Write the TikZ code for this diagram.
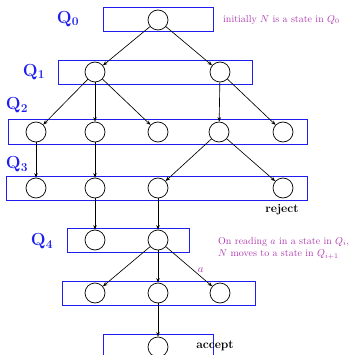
\documentclass[tikz,border=0pt]{standalone}
\usetikzlibrary{arrows.meta}
\definecolor{annot}{RGB}{175,55,175}
\definecolor{qblue}{RGB}{30,30,240}
\begin{document}
\begin{tikzpicture}[x=1pt,y=-1pt,
  st/.style={circle,draw=black,line width=0.7pt,minimum size=20pt,inner sep=0pt},
  level/.style={draw=qblue,line width=0.8pt},
  qlab/.style={text=qblue,font=\fontsize{17.5}{21}\selectfont\bfseries},
  note/.style={text=annot,font=\fontsize{10}{12.5}\selectfont,align=left,anchor=west,inner sep=0pt},
  edge/.style={-{Stealth[length=4.5pt,width=3.5pt]},line width=0.65pt},
  endlab/.style={font=\large\bfseries,inner sep=0pt}]
\useasboundingbox (0,0) rectangle (352,355);
% level boxes
\draw[level] (103,7) rectangle (213,31);
\draw[level] (58,60) rectangle (252,84);
\draw[level] (8,119) rectangle (307,144);
\draw[level] (6,176) rectangle (307,200);
\draw[level] (67,228) rectangle (189,252);
\draw[level] (62,281) rectangle (255,305);
\draw[level] (103,334) rectangle (213,358);
% labels
\node[qlab] (l0) at (68,19) {Q$_{\mathbf 0}$};
\node[qlab] (l1) at (34,72) {Q$_{\mathbf 1}$};
\node[qlab] (l2) at (17,105) {Q$_{\mathbf 2}$};
\node[qlab] (l3) at (17,164) {Q$_{\mathbf 3}$};
\node[qlab] (l4) at (42,241) {Q$_{\mathbf 4}$};
% states
\node[st] (a) at (158,20) {};
\node[st] (b1) at (95,72) {};
\node[st] (b2) at (220,72) {};
\node[st] (c1) at (36,132) {};
\node[st] (c2) at (95,132) {};
\node[st] (c3) at (158,132) {};
\node[st] (c4) at (219,132) {};
\node[st] (c5) at (283,132) {};
\node[st] (d1) at (36,188) {};
\node[st] (d2) at (95,188) {};
\node[st] (d3) at (158,188) {};
\node[st] (d4) at (283,188) {};
\node[st] (e1) at (95,240) {};
\node[st] (e2) at (158,240) {};
\node[st] (f1) at (95,293) {};
\node[st] (f2) at (158,293) {};
\node[st] (f3) at (220,293) {};
\node[st] (g) at (158,347) {};
% edges
\draw[edge] (a) -- (b1);
\draw[edge] (a) -- (b2);
\draw[edge] (b1) -- (c1);
\draw[edge] (b1) -- (c2);
\draw[edge] (b1) -- (c3);
\draw[edge] (b2) -- (c4);
\draw[edge] (b2) -- (c5);
\draw[edge] (c1) -- (d1);
\draw[edge] (c2) -- (d2);
\draw[edge] (c4) -- (d3);
\draw[edge] (c4) -- (d4);
\draw[edge] (d2) -- (e1);
\draw[edge] (d3) -- (e2);
\draw[edge] (e2) -- (f1);
\draw[edge] (e2) -- (f2);
\draw[edge] (e2) -- node[pos=0.6,right,text=annot,inner sep=4pt,font=\fontsize{11}{13}\selectfont] (alab) {$a$} (f3);
\draw[edge] (f2) -- (g);
% texts
\node[endlab] (rej) at (282,210) {reject};
\node[endlab] (acc) at (215,346) {accept};
\node[note] (n1) at (223,20) {initially $N$ is a state in $Q_0$};
\node[note] (n2) at (218,248) {On reading $a$ in a state in $Q_i$,\\$N$ moves to a state in $Q_{i+1}$};
\end{tikzpicture}
\end{document}
